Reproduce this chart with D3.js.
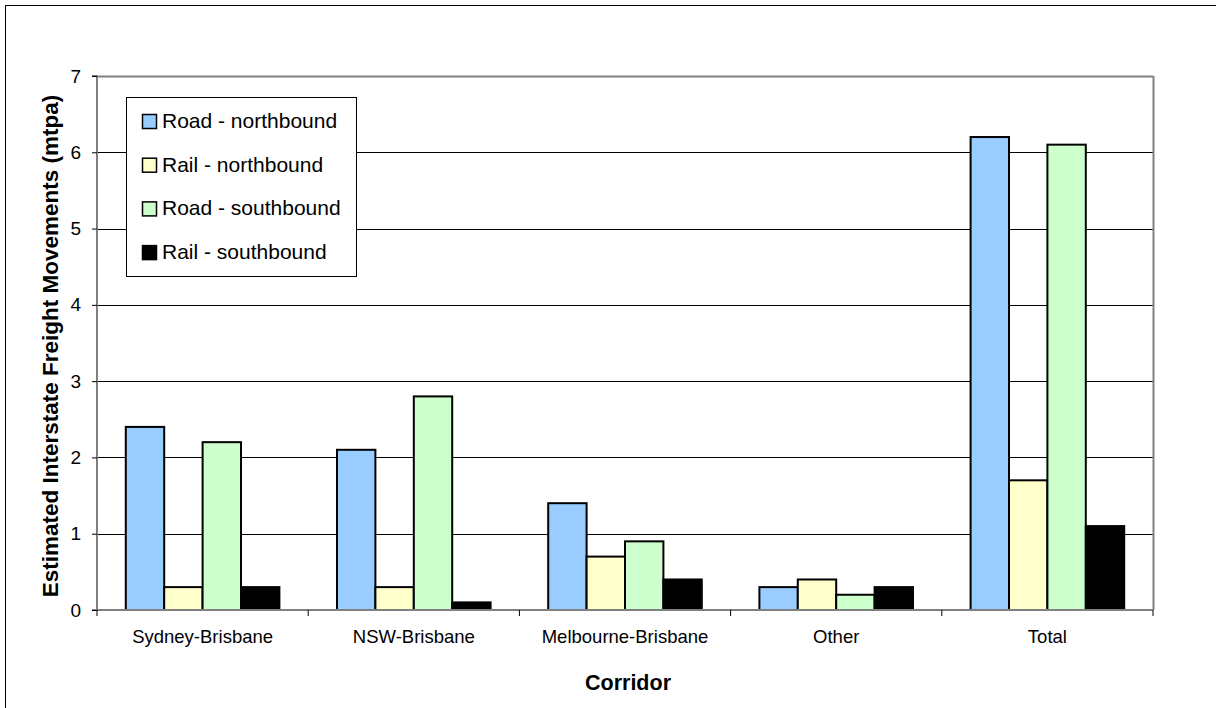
<!DOCTYPE html>
<html><head><meta charset="utf-8">
<script src="https://cdn.jsdelivr.net/npm/d3@7"></script>
<style>
body{margin:0;background:#fff;}
svg{display:block;font-family:"Liberation Sans",Arial,sans-serif;}
</style></head>
<body><svg id="c" width="1216" height="708"></svg>
<script>
const categories = ["Sydney-Brisbane","NSW-Brisbane","Melbourne-Brisbane","Other","Total"];
const seriesNames = ["Road - northbound","Rail - northbound","Road - southbound","Rail - southbound"];
const roadNorth = [2.4, 2.1, 1.4, 0.3, 6.2];
const railNorth = [0.3, 0.3, 0.7, 0.4, 1.7];
const roadSouth = [2.2, 2.8, 0.9, 0.2, 6.1];
const railSouth = [0.3, 0.1, 0.4, 0.3, 1.1];
const yTicks = [0,1,2,3,4,5,6,7];
const colors = ["#99CCFF","#FFFFCC","#CCFFCC","#000000"];
const seriesValues = [roadNorth, railNorth, roadSouth, railSouth];
const FONT = "Liberation Sans, Arial, sans-serif";

const svg = d3.select("#c");
const L = 97, R = 1153, T = 76, B = 610;

// outer frame
svg.append("rect").attr("x",5.5).attr("y",5.5).attr("width",1260).attr("height",760)
  .attr("fill","none").attr("stroke","#000").attr("stroke-width",1);

const x = d3.scaleBand().domain(categories).range([L,R]).paddingInner(0).paddingOuter(0);
const x1 = d3.scaleBand().domain(d3.range(4)).range([0, x.bandwidth()]).paddingInner(0).paddingOuter(0.75);
const y = d3.scaleLinear().domain([0,7]).range([B,T]);

// gridlines
svg.append("g").selectAll("line").data(yTicks.filter(d=>d>0 && d<7)).join("line")
  .attr("x1",L).attr("x2",R).attr("y1",d=>Math.round(y(d))+0.5).attr("y2",d=>Math.round(y(d))+0.5)
  .attr("stroke","#000").attr("stroke-width",1);

// plot frame (grey)
svg.append("line").attr("x1",L).attr("x2",R).attr("y1",T+0.5).attr("y2",T+0.5).attr("stroke","#808080").attr("stroke-width",2);
svg.append("line").attr("x1",R+0.5).attr("x2",R+0.5).attr("y1",T).attr("y2",B).attr("stroke","#808080").attr("stroke-width",2);

// bars
const groups = svg.append("g").selectAll("g").data(categories).join("g")
  .attr("transform",d=>`translate(${x(d)},0)`);
groups.selectAll("rect").data((c,i)=>seriesValues.map((s,k)=>({k, v:s[i]}))).join("rect")
  .attr("x",d=>x1(d.k)).attr("width",x1.bandwidth())
  .attr("y",d=>y(d.v)).attr("height",d=>y(0)-y(d.v))
  .attr("fill",d=>colors[d.k]).attr("stroke","#000").attr("stroke-width",2);

// y axis
const yAxis = d3.axisLeft(y).tickValues(yTicks).tickSize(5).tickPadding(11).tickFormat(d3.format("d"));
const ya = svg.append("g").attr("transform",`translate(${L},0)`).call(yAxis);
ya.attr("font-size",null).attr("font-family",null);
ya.select(".domain").attr("stroke","#808080").attr("stroke-width",2).attr("d",`M-5,${T}H0V${B}H-5`);
ya.selectAll(".tick line").attr("stroke","#000");
ya.selectAll("text").style("font-size","19px").attr("fill","#000").style("font-family",FONT);

// x axis
const xAxis = d3.axisBottom(x).tickSize(0).tickPadding(0);
const xa = svg.append("g").attr("transform",`translate(0,${B})`).call(xAxis);
xa.attr("font-size",null).attr("font-family",null);
xa.select(".domain").attr("stroke","#808080").attr("stroke-width",2).attr("d",`M${L},0H${R}`);
xa.selectAll("text").attr("y",33).attr("dy",0).style("font-size","18.5px").attr("fill","#000").style("font-family",FONT);
// boundary ticks
svg.append("g").selectAll("line").data(d3.range(categories.length+1)).join("line")
  .attr("x1",i=>L + i*x.bandwidth()).attr("x2",i=>L + i*x.bandwidth())
  .attr("y1",B).attr("y2",B+6).attr("stroke","#000").attr("stroke-width",1);

// axis titles
svg.append("text").attr("transform",`translate(58,346) rotate(-90)`)
  .attr("text-anchor","middle").style("font-size","22.5px").attr("font-weight","bold")
  .text("Estimated Interstate Freight Movements (mtpa)");
svg.append("text").attr("x",628).attr("y",690).attr("text-anchor","middle")
  .style("font-size","21.5px").attr("font-weight","bold").text("Corridor");

// legend
const lg = svg.append("g");
lg.append("rect").attr("x",126.5).attr("y",97.5).attr("width",230).attr("height",179)
  .attr("fill","#fff").attr("stroke","#000").attr("stroke-width",1);
const items = lg.selectAll("g").data(seriesNames).join("g")
  .attr("transform",(d,i)=>`translate(142,${128 + i*43.7})`);
items.append("rect").attr("x",0.5).attr("y",-13.5).attr("width",14).attr("height",14)
  .attr("fill",(d,i)=>colors[i]).attr("stroke","#000").attr("stroke-width",1.5);
items.append("text").attr("x",20).attr("y",0).style("font-size","21px").text(d=>d);
</script></body></html>
